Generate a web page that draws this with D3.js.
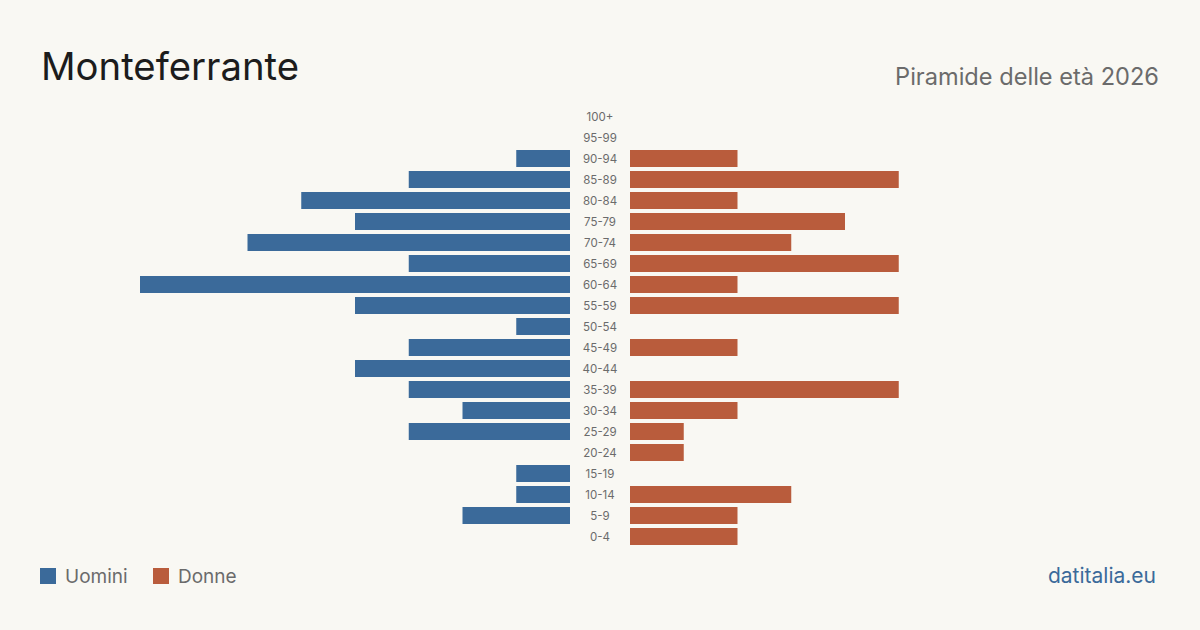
<!DOCTYPE html>
<html>
<head>
<meta charset="utf-8">
<script src="https://cdn.jsdelivr.net/npm/d3@7"></script>
<style>
  body{margin:0;background:#f9f8f3;}
  svg{display:block;font-family:Inter,"Noto Sans",sans-serif;}
</style>
</head>
<body>
<svg id="drawing_region"></svg>
<script>
// fasce d'età, dall'alto in basso
const ages = ["100+","95-99","90-94","85-89","80-84","75-79","70-74","65-69","60-64","55-59","50-54",
              "45-49","40-44","35-39","30-34","25-29","20-24","15-19","10-14","5-9","0-4"];
const men   = [0,0,1,3,5,4,6,3,8,4,1,3,4,3,2,3,0,1,1,2,0];
const women = [0,0,2,5,2,4,3,5,2,5,0,2,0,5,2,1,1,0,3,2,2];
const legendLabels = ["Uomini","Donne"];
const colors = ["#3b6a9a","#b95c3c"];

const width = 1200, height = 630;
const svg = d3.select("#drawing_region")
    .attr("width",width)
    .attr("height",height);

svg.append("rect").attr("width",width).attr("height",height).attr("fill","#f9f8f3");

svg.append("text")
    .attr("x",41).attr("y",80)
    .attr("font-size","38.3px")
    .attr("fill","#1c1c1c")
    .text("Monteferrante");

svg.append("text")
    .attr("x",1159).attr("y",85)
    .attr("text-anchor","end")
    .attr("font-size","23.6px")
    .attr("fill","#6b6b6b")
    .text("Piramide delle età 2026");

const data = ages.map((a,i)=>({age:a,m:men[i],f:women[i]}));
const xmax = d3.max(data,d=>Math.max(d.m,d.f));

const yscale = d3.scaleBand()
    .domain(ages)
    .range([106,547])
    .paddingInner(4/21)
    .paddingOuter(2/21);

const xleft = d3.scaleLinear().domain([0,xmax]).range([570,140]);
const xright = d3.scaleLinear().domain([0,xmax]).range([630,1060]);

const chart = svg.append("g");

chart.selectAll("rect.m")
    .data(data.filter(d=>d.m>0))
    .enter().append("rect")
    .attr("class","m")
    .attr("x",d=>xleft(d.m))
    .attr("y",d=>yscale(d.age))
    .attr("width",d=>xleft(0)-xleft(d.m))
    .attr("height",yscale.bandwidth())
    .attr("fill",colors[0]);

chart.selectAll("rect.f")
    .data(data.filter(d=>d.f>0))
    .enter().append("rect")
    .attr("class","f")
    .attr("x",xright(0))
    .attr("y",d=>yscale(d.age))
    .attr("width",d=>xright(d.f)-xright(0))
    .attr("height",yscale.bandwidth())
    .attr("fill",colors[1]);

chart.selectAll("text.age")
    .data(data)
    .enter().append("text")
    .attr("class","age")
    .attr("x",600)
    .attr("y",d=>yscale(d.age)+yscale.bandwidth()/2+4)
    .attr("text-anchor","middle")
    .attr("font-size","11.5px")
    .attr("fill","#6b6b6b")
    .text(d=>d.age);

// legenda
const legend = svg.append("g");
const lx = [40,153];
legendLabels.forEach((l,i)=>{
    legend.append("rect")
        .attr("x",lx[i]).attr("y",568)
        .attr("width",16).attr("height",16)
        .attr("fill",colors[i]);
    legend.append("text")
        .attr("x",lx[i]+25).attr("y",583)
        .attr("font-size","19px")
        .attr("fill","#6b6b6b")
        .text(l);
});

svg.append("text")
    .attr("x",1156).attr("y",583)
    .attr("text-anchor","end")
    .attr("font-size","21px")
    .attr("fill","#3b6a9a")
    .text("datitalia.eu");
</script>
</body>
</html>
